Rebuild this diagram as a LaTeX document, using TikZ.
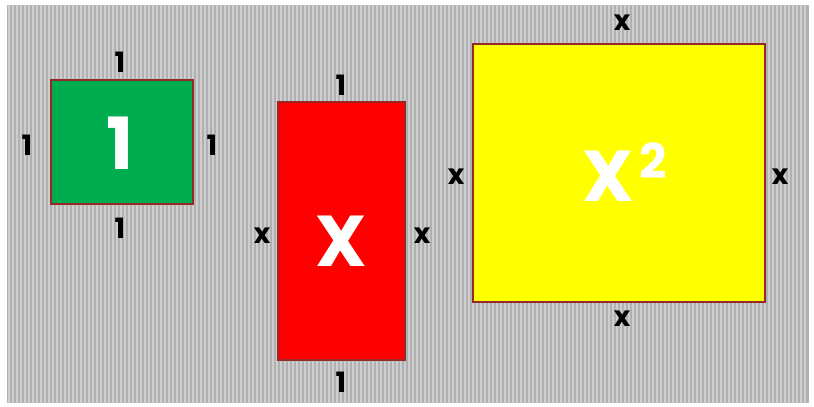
\documentclass[tikz,border=0pt]{standalone}
\usepackage{fontspec}
\usepackage{xcolor}
\usepackage{tikz}
\setmainfont{Poppins}
\definecolor{tilegreen}{RGB}{0,172,80}
\definecolor{tilered}{RGB}{255,0,0}
\definecolor{tileyellow}{RGB}{255,255,0}
\definecolor{tileedge}{RGB}{150,40,40}
\definecolor{stripedark}{RGB}{176,176,176}
\definecolor{stripelight}{RGB}{206,206,206}
\tikzset{
    tile/.style={draw=tileedge, line width=0.8pt, rectangle, inner sep=0pt},
    bigtext/.style={text=white, inner sep=0pt, font=\fontsize{54}{60}\selectfont\bfseries},
    side/.style={font=\fontsize{21}{24}\selectfont\bfseries, text=black, inner sep=0pt}
}

\begin{document}
\begin{tikzpicture}[x=0.75pt, y=-0.75pt]
        \useasboundingbox (0, 0) rectangle (814, 407);
        % striped background
        \fill[stripedark] (7, 5) rectangle (809, 403);
        \foreach \i in {8, 12, ..., 806}
            \fill[stripelight] (\i, 5) rectangle ++(2, 398);

        % the unit square
        \node (one) at (122, 142) [tile, fill=tilegreen, minimum width=106.5pt, minimum height=93pt] {};
        \node (onename) at (120, 143) [bigtext] {1};
        \node (onetop) at (120, 62) [side] {1};
        \node (onebot) at (120, 228) [side] {1};
        \node (oneleft) at (27, 145) [side] {1};
        \node (oneright) at (212, 145) [side] {1};

        % the x by 1 strip
        \node (ex) at (341.5, 231) [tile, fill=tilered, minimum width=95.25pt, minimum height=193.5pt] {};
        \node (exname) at (341, 241) [bigtext] {X};
        \node (extop) at (341, 85) [side] {1};
        \node (exbot) at (341, 382) [side] {1};
        \node (exleft) at (262, 236) [side] {x};
        \node (exright) at (422, 236) [side] {x};

        % the x by x square
        \node (sq) at (619, 173) [tile, fill=tileyellow, minimum width=219pt, minimum height=193.5pt] {};
        \node (sqname) at (608, 176) [bigtext] {X};
        \node (sqpow) at (653, 161) [bigtext, font=\fontsize{36}{40}\selectfont\bfseries] {2};
        \node (sqtop) at (622, 23) [side] {x};
        \node (sqbot) at (622, 319) [side] {x};
        \node (sqleft) at (456, 177) [side] {x};
        \node (sqright) at (780, 177) [side] {x};
\end{tikzpicture}
\end{document}
